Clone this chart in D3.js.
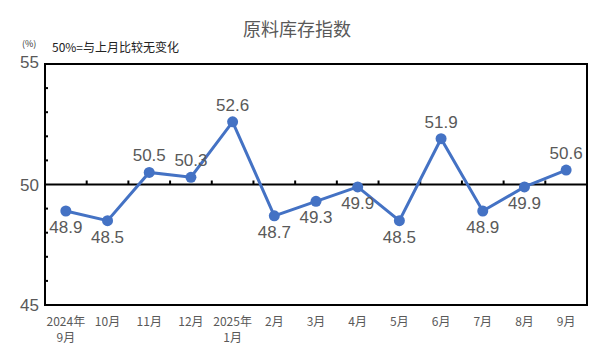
<!DOCTYPE html>
<html>
<head>
<meta charset="utf-8">
<script src="https://cdn.jsdelivr.net/npm/d3@7"></script>
<style>
  body { margin: 0; background: #fff; }
  text { font-family: "Noto Sans CJK SC", "Liberation Sans", sans-serif; }
  text.num { font-family: "Liberation Sans", Arial, sans-serif; }
</style>
</head>
<body>
<div id="chart"></div>
<script>
// data
var months = ["2024年\n9月", "10月", "11月", "12月", "2025年\n1月", "2月", "3月", "4月", "5月", "6月", "7月", "8月", "9月"];
var values = [48.9, 48.5, 50.5, 50.3, 52.6, 48.7, 49.3, 49.9, 48.5, 51.9, 48.9, 49.9, 50.6];
// true = label above the point
var labelAbove = [false, false, true, true, true, false, false, false, false, true, false, false, true];
var yTicks = [45, 50, 55];
var yMinor = [46, 47, 48, 49, 51, 52, 53, 54];

var width = 591, height = 354;
var margin = { top: 64, right: 4, bottom: 49, left: 45 };

var svg = d3.select("#chart")
            .append("svg")
            .attr("width", width)
            .attr("height", height);

var xScale = d3.scaleBand()
               .domain(months)
               .range([margin.left, width - margin.right]);

var yScale = d3.scaleLinear()
               .domain([45, 55])
               .range([height - margin.bottom, margin.top]);

var x0 = margin.left, x1 = width - margin.right;
var yTop = yScale(55), yBot = yScale(45), y50 = yScale(50);

// titulo
svg.append("text")
   .attr("x", 297)
   .attr("y", 36)
   .attr("text-anchor", "middle")
   .style("font-size", "18px")
   .style("fill", "#595959")
   .text("原料库存指数");

svg.append("text")
   .attr("x", 22)
   .attr("y", 47)
   .style("font-size", "9px")
   .style("fill", "#333")
   .text("(%)");

svg.append("text")
   .attr("x", 52)
   .attr("y", 52)
   .style("font-size", "12px")
   .style("fill", "#222")
   .text("50%=与上月比较无变化");

// moldura
svg.append("rect")
   .attr("x", x0)
   .attr("y", yTop)
   .attr("width", x1 - x0)
   .attr("height", yBot - yTop)
   .attr("fill", "none")
   .attr("stroke", "#000")
   .attr("stroke-width", 2);

// ticks menores do eixo y
svg.selectAll(".minor")
   .data(yMinor)
   .enter()
   .append("line")
   .attr("x1", x0)
   .attr("x2", x0 + 3)
   .attr("y1", function(d) { return yScale(d); })
   .attr("y2", function(d) { return yScale(d); })
   .attr("stroke", "#000")
   .attr("stroke-width", 2);

// linha de 50
svg.append("line")
   .attr("x1", x0)
   .attr("x2", x1)
   .attr("y1", y50)
   .attr("y2", y50)
   .attr("stroke", "#000")
   .attr("stroke-width", 2);

// ticks na linha de 50
svg.selectAll(".xtick")
   .data(months.slice(1))
   .enter()
   .append("line")
   .attr("x1", function(d) { return xScale(d); })
   .attr("x2", function(d) { return xScale(d); })
   .attr("y1", y50)
   .attr("y2", y50 - 4)
   .attr("stroke", "#000")
   .attr("stroke-width", 2);

// rotulos do eixo y
svg.selectAll(".ylab")
   .data(yTicks)
   .enter()
   .append("text")
   .attr("class", "num")
   .attr("x", 39)
   .attr("y", function(d) { return yScale(d) + (d === 55 ? 4 : 6); })
   .attr("text-anchor", "end")
   .style("font-size", "17px")
   .style("fill", "#595959")
   .text(function(d) { return d; });

// rotulos do eixo x
var xl = svg.selectAll(".xlab")
   .data(months)
   .enter()
   .append("text")
   .attr("text-anchor", "middle")
   .style("font-size", "12px")
   .style("fill", "#595959");

xl.each(function(d) {
    var parts = d.split("\n");
    var t = d3.select(this);
    parts.forEach(function(p, i) {
        t.append("tspan")
         .attr("x", xScale(d) + xScale.bandwidth() / 2)
         .attr("y", 326 + i * 16)
         .text(p);
    });
});

// linha
var line = d3.line()
             .x(function(d, i) { return xScale(months[i]) + xScale.bandwidth() / 2; })
             .y(function(d) { return yScale(d); });

svg.append("path")
   .datum(values)
   .attr("d", line)
   .attr("fill", "none")
   .attr("stroke", "#4472C4")
   .attr("stroke-width", 3);

svg.selectAll("circle")
   .data(values)
   .enter()
   .append("circle")
   .attr("cx", function(d, i) { return xScale(months[i]) + xScale.bandwidth() / 2; })
   .attr("cy", function(d) { return yScale(d); })
   .attr("r", 5.5)
   .attr("fill", "#4472C4");

// rotulos de valores
svg.selectAll(".vlab")
   .data(values)
   .enter()
   .append("text")
   .attr("class", "num")
   .attr("x", function(d, i) { return xScale(months[i]) + xScale.bandwidth() / 2; })
   .attr("y", function(d, i) { return yScale(d) + (labelAbove[i] ? -11 : 22); })
   .attr("text-anchor", "middle")
   .style("font-size", "17px")
   .style("fill", "#595959")
   .text(function(d) { return d.toFixed(1); });
</script>
</body>
</html>
